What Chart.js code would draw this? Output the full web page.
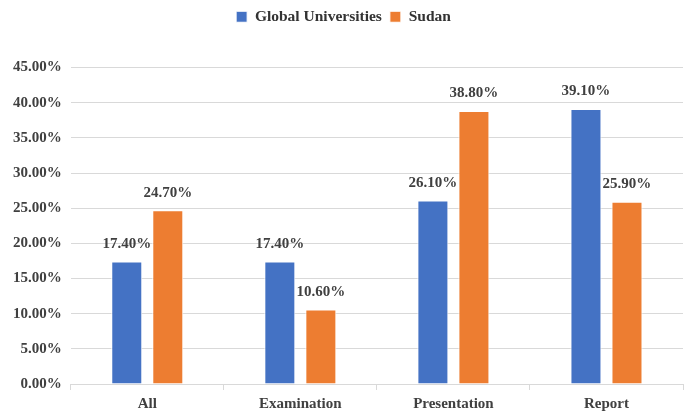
<!DOCTYPE html>
<html lang="en">
<head>
    <meta charset="UTF-8">
    <title>Global Universities vs Sudan</title>
    <script src="https://cdn.jsdelivr.net/npm/chart.js"></script>
    <style>
        html, body { margin: 0; padding: 0; background: #fff; }
        #wrap { width: 685px; height: 412px; }
    </style>
</head>
<body>
    <div id="wrap"><canvas id="chart"></canvas></div>

    <script>
        // assessment types and shares (percent)
        const categories = ['All', 'Examination', 'Presentation', 'Report'];
        const globalUniversities = [17.4, 17.4, 26.1, 39.1];
        const sudan = [24.7, 10.6, 38.8, 25.9];

        const serif = '"Liberation Serif", "Times New Roman", serif';
        const textColor = '#404040';

        // prints the value above each bar
        const valueLabels = {
            id: 'valueLabels',
            afterDatasetsDraw(chart) {
                const ctx = chart.ctx;
                ctx.save();
                ctx.font = 'bold 15px ' + serif;
                ctx.fillStyle = textColor;
                ctx.textAlign = 'center';
                ctx.textBaseline = 'bottom';
                chart.data.datasets.forEach((ds, i) => {
                    chart.getDatasetMeta(i).data.forEach((bar, j) => {
                        ctx.fillText(ds.data[j].toFixed(2) + '%', bar.x, bar.y - 10);
                    });
                });
                ctx.restore();
            }
        };

        // extra space between legend and plot
        const legendGap = {
            id: 'legendGap',
            beforeInit(chart) {
                const fit = chart.legend.fit;
                chart.legend.fit = function () {
                    fit.call(this);
                    this.height += 33;
                };
            }
        };

        new Chart(document.getElementById('chart'), {
            type: 'bar',
            data: {
                labels: categories,
                datasets: [
                    { label: 'Global Universities', data: globalUniversities, backgroundColor: '#4472C4', borderColor: '#ffffff', borderWidth: 1 },
                    { label: 'Sudan', data: sudan, backgroundColor: '#ED7D31', borderColor: '#ffffff', borderWidth: 1 }
                ]
            },
            options: {
                responsive: true,
                maintainAspectRatio: false,
                animation: false,
                categoryPercentage: 0.536,
                barPercentage: 0.756,
                layout: { padding: { top: 1, right: 2, left: 4, bottom: -6 } },
                plugins: {
                    legend: {
                        position: 'top',
                        labels: {
                            boxWidth: 11,
                            boxHeight: 11,
                            color: '#333333',
                            font: { family: serif, size: 15.5, weight: 'bold' },
                            padding: 8
                        }
                    },
                    tooltip: { enabled: false }
                },
                scales: {
                    x: {
                        grid: { drawOnChartArea: false, tickLength: 6, color: '#d9d9d9' },
                        border: { color: '#d9d9d9' },
                        ticks: { color: textColor, font: { family: serif, size: 15, weight: 'bold' }, padding: 5 }
                    },
                    y: {
                        min: 0,
                        max: 45,
                        ticks: {
                            stepSize: 5,
                            color: textColor,
                            font: { family: serif, size: 15, weight: 'bold' },
                            padding: 9,
                            callback: v => v.toFixed(2) + '%'
                        },
                        grid: { color: '#d9d9d9', drawTicks: false },
                        border: { display: false }
                    }
                }
            },
            plugins: [valueLabels, legendGap]
        });
    </script>
</body>
</html>
